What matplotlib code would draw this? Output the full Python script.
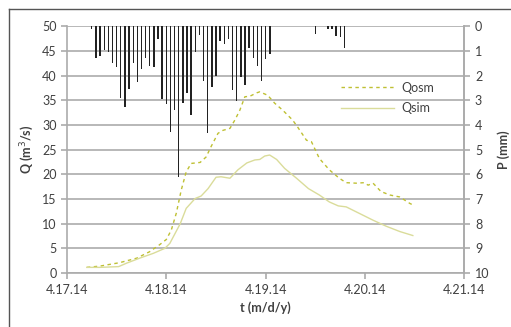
import matplotlib
matplotlib.use("Agg")
import matplotlib.pyplot as plt
from matplotlib.lines import Line2D

# time in days since 4.17.14
t_osm = [0.20, 0.33, 0.53, 0.70, 0.83, 0.93, 1.00, 1.05, 1.10, 1.15, 1.20, 1.25, 1.34,
         1.40, 1.45, 1.52, 1.57, 1.64, 1.69, 1.74, 1.79, 1.84, 1.91, 1.94, 2.02, 2.09,
         2.17, 2.27, 2.32, 2.41, 2.46, 2.54, 2.64, 2.74, 2.81, 2.91, 2.99, 3.03, 3.08,
         3.16, 3.25, 3.35, 3.45, 3.48]
q_osm = [1.15, 1.4, 2.1, 3.0, 4.3, 5.7, 6.8, 8.7, 12.1, 16.8, 20.5, 22.2, 22.4,
         23.5, 25.6, 28.3, 28.9, 29.3, 31.0, 33.0, 35.7, 35.8, 36.5, 36.7, 36.0, 34.4,
         33.0, 31.0, 29.6, 26.9, 26.6, 23.2, 20.9, 19.2, 18.3, 18.2, 18.3, 17.8, 18.2,
         16.5, 15.8, 15.4, 14.1, 13.8]

t_sim = [0.20, 0.33, 0.52, 0.60, 0.73, 0.87, 0.985, 1.035, 1.14, 1.20, 1.29, 1.35, 1.42,
         1.50, 1.55, 1.64, 1.72, 1.81, 1.89, 1.94, 1.99, 2.04, 2.11, 2.19, 2.31, 2.43,
         2.54, 2.64, 2.73, 2.81, 2.94, 3.08, 3.21, 3.35, 3.48]
q_sim = [1.15, 1.15, 1.3, 2.0, 3.0, 4.0, 5.0, 6.0, 10.0, 13.1, 15.1, 15.6, 17.1,
         19.4, 19.5, 19.2, 20.9, 22.3, 22.9, 23.0, 23.7, 23.9, 23.0, 21.2, 19.2, 17.1,
         15.8, 14.4, 13.6, 13.4, 12.1, 10.7, 9.5, 8.4, 7.6]

# hourly precipitation (hour since 4.17.14 00:00, depth in mm)
p_hour = list(range(6, 50)) + [60, 63, 64, 65, 66, 67]
p_mm = [0.13, 1.28, 1.2, 0.97, 1.06, 1.5, 1.64, 2.93, 3.26, 2.56, 1.48, 2.26, 1.75,
        1.27, 1.61, 1.67, 0.54, 2.96, 3.16, 4.29, 3.39, 6.12, 3.12, 2.72, 3.59, 1.04,
        0.35, 2.22, 4.33, 2.48, 2.02, 0.62, 0.73, 0.54, 2.58, 3.05, 2.05, 2.38, 0.9,
        1.3, 1.6, 2.22, 1.31, 1.13,
        0.3, 0.1, 0.1, 0.4, 0.45, 0.87]

x_ticks = [0, 1, 2, 3, 4]
x_labels = ["4.17.14", "4.18.14", "4.19.14", "4.20.14", "4.21.14"]

plt.rcParams['font.family'] = ['Lato', 'DejaVu Sans']
grid_col = "#ababab"
txt_col = "#404040"
osm_col = "#bfc033"
sim_col = "#dadc9a"
osm_dash = (0, (2.5, 2.5))

fig = plt.figure(figsize=(5.11, 3.27), dpi=100)
ax = fig.add_axes([0.131, 0.165, 0.778, 0.755])

ax.plot(t_osm, q_osm, color=osm_col, lw=1.0, ls=osm_dash, label="Qosm")
ax.plot(t_sim, q_sim, color=sim_col, lw=1.0, label="Qsim")

ax.set_xlim(0, 4)
ax.set_ylim(0, 50)
ax.set_yticks(range(0, 51, 5))
ax.set_xticks(x_ticks)
ax.set_xticklabels(x_labels)
ax.grid(axis="y", color=grid_col, lw=1.2)
ax.set_axisbelow(True)
ax.spines["top"].set_visible(False)
for s in ["left", "right", "bottom"]:
    ax.spines[s].set_color(grid_col)
    ax.spines[s].set_linewidth(1.2)
ax.tick_params(axis="both", colors=grid_col, labelcolor=txt_col, labelsize=9, length=4, width=1.2)
ax.tick_params(axis="x", pad=4)
ax.set_ylabel("Q (m$^3$/s)", fontsize=9, fontweight="bold", color=txt_col, labelpad=4)
ax.set_xlabel("t (m/d/y)", fontsize=9, fontweight="bold", color=txt_col, labelpad=4)

ax2 = ax.twinx()
p_days = [h / 24 for h in p_hour]
ax2.bar(p_days, p_mm, width=0.014, color="#222222", align="center")
ax2.set_ylim(10, 0)
ax2.set_yticks(range(0, 11))
ax2.set_xlim(0, 4)
for s in ["top", "left", "bottom"]:
    ax2.spines[s].set_visible(False)
ax2.spines["right"].set_color(grid_col)
ax2.spines["right"].set_linewidth(1.2)
ax2.tick_params(axis="y", colors=grid_col, labelcolor=txt_col, labelsize=9, length=4, width=1.2)
ax2.set_ylabel("P (mm)", fontsize=9, fontweight="bold", color=txt_col, rotation=90, labelpad=6)

handles = [Line2D([], [], color=osm_col, lw=1.0, ls=osm_dash),
           Line2D([], [], color=sim_col, lw=1.0)]
ax2.legend(handles, ["Qosm", "Qsim"], loc="upper left", bbox_to_anchor=(0.66, 0.82),
           frameon=False, fontsize=9, handlelength=4.3, labelspacing=0.65,
           handletextpad=0.6, labelcolor=txt_col)

# outer chart frame (left and top edges)
fig.add_artist(Line2D([9 / 511, 9 / 511], [0, 1 - 9 / 327], color="#555555", lw=1.0))
fig.add_artist(Line2D([9 / 511, 1], [1 - 9 / 327, 1 - 9 / 327], color="#555555", lw=1.0))

fig.savefig("out.png", dpi=100)
